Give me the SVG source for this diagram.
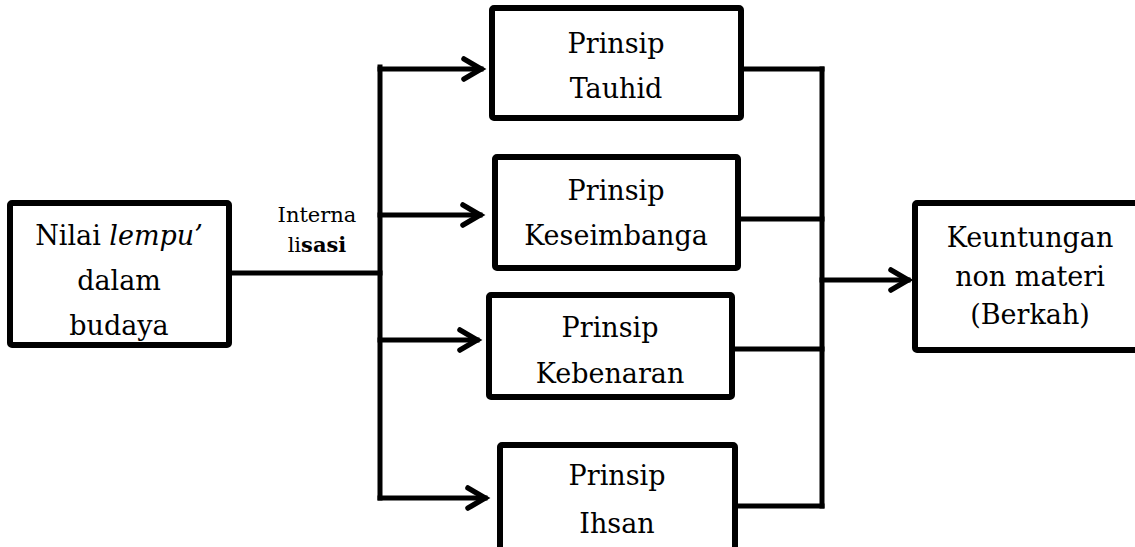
<svg xmlns="http://www.w3.org/2000/svg" width="1135" height="547" viewBox="0 0 1135 547">
<defs>
<style>
.box{fill:#fff;stroke:#000;stroke-width:6}
.ln{fill:none;stroke:#000;stroke-width:5;stroke-linecap:square;stroke-linejoin:miter}
.t{font-family:"DejaVu Serif","Liberation Serif",serif;font-size:27px;text-anchor:middle;fill:#000}
.s{font-family:"DejaVu Serif","Liberation Serif",serif;font-size:21px;text-anchor:middle;fill:#000}
</style>
<marker id="arr" viewBox="0 0 28 30" refX="22" refY="15" markerWidth="28" markerHeight="30" markerUnits="userSpaceOnUse" orient="auto">
<polyline points="5,5 22,15 5,25" fill="none" stroke="#000" stroke-width="5.5" stroke-linecap="round" stroke-linejoin="miter"/>
</marker>
</defs>
<rect width="1135" height="547" fill="#fff"/>
<g id="connectors">
<line class="ln" x1="234" y1="273" x2="380" y2="273"/>
<line class="ln" x1="380" y1="67" x2="380" y2="498"/>
<line class="ln" x1="380" y1="69" x2="481" y2="69" marker-end="url(#arr)"/>
<line class="ln" x1="380" y1="215" x2="480" y2="215" marker-end="url(#arr)"/>
<line class="ln" x1="380" y1="340" x2="477" y2="340" marker-end="url(#arr)"/>
<line class="ln" x1="380" y1="498" x2="485" y2="498" marker-end="url(#arr)"/>
<line class="ln" x1="741" y1="69" x2="822" y2="69"/>
<line class="ln" x1="738" y1="219" x2="822" y2="219"/>
<line class="ln" x1="732" y1="349" x2="822" y2="349"/>
<line class="ln" x1="735" y1="506" x2="822" y2="506"/>
<line class="ln" x1="822" y1="69" x2="822" y2="506"/>
<line class="ln" x1="822" y1="280" x2="908" y2="280" marker-end="url(#arr)"/>
<g id="label-internalisasi">
<text class="s" x="317" y="222">Interna</text>
<text class="s" x="317" y="252">li<tspan font-weight="bold">sasi</tspan></text>
</g>
</g>
<g id="node-nilai">
<rect class="box" x="10" y="203" width="219" height="142" rx="2"/>
<text class="t" x="119" y="245">Nilai <tspan font-style="italic">lempu’</tspan></text>
<text class="t" x="119" y="290">dalam</text>
<text class="t" x="119" y="335">budaya</text>
</g>
<g id="node-tauhid">
<rect class="box" x="492" y="8" width="249" height="110" rx="2"/>
<text class="t" x="616" y="53">Prinsip</text>
<text class="t" x="616" y="98">Tauhid</text>
</g>
<g id="node-keseimbangan">
<rect class="box" x="495" y="157" width="243" height="111" rx="2"/>
<text class="t" x="616" y="200">Prinsip</text>
<text class="t" x="616" y="245">Keseimbanga</text>
</g>
<g id="node-kebenaran">
<rect class="box" x="489" y="295" width="243" height="102" rx="2"/>
<text class="t" x="610" y="337">Prinsip</text>
<text class="t" x="610" y="383">Kebenaran</text>
</g>
<g id="node-ihsan">
<rect class="box" x="500" y="445" width="235" height="110" rx="2"/>
<text class="t" x="617" y="485">Prinsip</text>
<text class="t" x="617" y="533">Ihsan</text>
</g>
<g id="node-keuntungan">
<rect class="box" x="915" y="203" width="230" height="147" rx="2"/>
<text class="t" x="1030" y="247">Keuntungan</text>
<text class="t" x="1030" y="286">non materi</text>
<text class="t" x="1030" y="324">(Berkah)</text>
</g>
</svg>
